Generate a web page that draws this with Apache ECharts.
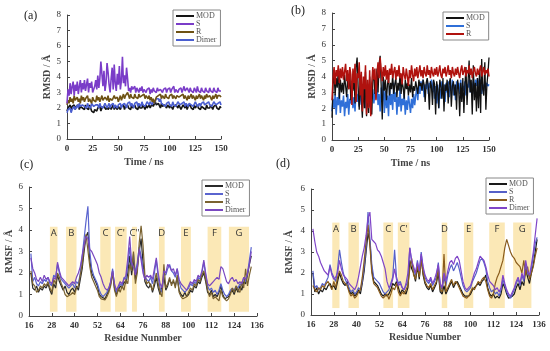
<!DOCTYPE html>
<html><head><meta charset="utf-8">
<script src="https://cdn.jsdelivr.net/npm/echarts@6/dist/echarts.min.js"></script>
<style>html,body{margin:0;padding:0;background:#fff}#c{width:550px;height:351px}</style>
</head><body><div id="c"></div>
<script>
// ---------- Panel (a): RMSD vs time (ns), 1 ns per value ----------
const rmsdA_MOD = [
1.8,2.0,1.9,2.2,1.9,2.1,2.0,2.2,1.9,2.1, 2.0,2.2,1.9,2.1,2.2,2.0,2.1,1.9,2.2,2.0,
2.1,1.9,2.2,2.0,1.8,1.9,1.7,1.9,2.0,1.8, 2.0,1.9,2.1,1.8,2.0,1.9,2.1,2.0,1.9,2.1,
1.9,2.0,2.1,1.9,2.0,2.2,1.9,2.1,2.0,1.9, 2.1,2.0,1.9,2.1,2.0,2.2,1.9,2.1,2.0,2.2,
2.0,2.1,1.9,2.2,2.0,2.1,2.2,2.0,2.1,1.9, 2.2,2.0,2.1,2.0,2.2,2.1,1.9,2.2,2.0,2.1,
2.2,2.0,2.1,2.3,2.1,2.2,2.4,2.2,2.1,2.3, 2.2,2.0,2.3,2.1,2.0,2.2,2.1,2.0,2.2,2.1,
2.0,2.2,2.1,1.9,2.1,2.0,2.2,2.1,2.0,2.2, 2.1,1.9,2.0,2.2,2.1,2.0,2.2,1.9,2.1,2.0,
2.2,2.0,2.1,1.9,2.2,2.0,2.1,2.2,2.0,2.1, 1.9,2.1,2.2,2.0,2.1,1.9,2.2,2.0,2.1,2.0,
2.2,2.1,1.9,2.1,2.0,2.2,2.0,2.1,1.9,2.1, 2.0];
const rmsdA_S = [
2.3,3.2,2.8,3.6,2.9,3.4,3.7,2.8,3.5,3.1, 3.7,2.9,3.4,3.8,3.0,3.6,3.2,3.8,3.1,3.5,
3.9,3.0,3.6,3.3,3.7,3.0,2.9,3.4,3.8,3.2, 4.1,3.3,3.9,5.0,4.2,3.4,4.4,3.1,3.6,4.9,
4.3,3.5,3.0,3.9,4.6,3.2,4.8,3.6,3.1,4.2, 3.5,4.7,3.2,3.8,5.3,3.6,4.1,3.4,4.6,3.9,
3.1,3.3,3.0,3.4,3.2,3.1,3.4,3.0,3.3,3.2, 3.0,3.3,3.1,3.4,3.0,3.2,3.3,3.0,3.2,3.1,
3.3,2.9,3.2,3.0,3.3,3.1,3.2,3.0,3.3,3.1, 3.0,3.2,3.3,3.0,3.2,3.1,3.3,3.0,3.2,3.1,
3.3,3.0,3.2,3.1,3.4,3.0,3.2,3.3,3.0,3.2, 3.1,3.3,3.0,3.2,3.4,3.1,3.0,3.3,3.2,3.0,
3.3,3.1,3.2,3.0,3.3,3.2,3.0,3.4,3.1,3.2, 3.0,3.3,3.1,3.2,3.0,3.3,3.1,3.2,3.0,3.3,
3.1,3.2,3.0,3.3,3.1,3.2,3.0,3.3,3.1,3.2, 3.1];
const rmsdA_R = [
2.2,2.5,2.3,2.7,2.4,2.6,2.3,2.8,2.5,2.4, 2.7,2.4,2.6,2.3,2.8,2.5,2.7,2.4,2.6,2.5,
2.8,2.4,2.6,2.5,2.3,2.7,2.5,2.6,2.4,2.8, 2.5,2.7,2.4,2.6,2.8,2.5,2.4,2.7,2.6,2.5,
2.8,2.4,2.6,2.7,2.5,2.4,2.8,2.6,2.5,2.7, 2.4,2.6,2.8,2.5,2.7,2.9,2.6,2.8,2.7,3.0,
2.8,2.6,2.9,2.7,2.8,2.6,2.9,2.7,2.8,2.6, 2.9,2.7,2.6,2.8,2.7,2.9,2.6,2.8,2.7,2.6,
2.8,2.5,2.7,2.4,2.6,2.3,2.5,2.7,2.6,2.8, 2.7,2.9,2.6,2.8,2.7,2.6,2.9,2.7,2.8,2.6,
2.8,2.7,2.9,2.6,2.8,2.7,2.6,2.8,2.9,2.7, 2.6,2.8,2.7,2.9,2.6,2.8,2.7,2.5,2.8,2.6,
2.7,2.9,2.6,2.8,2.7,2.5,2.8,2.6,2.7,2.9, 2.6,2.8,2.7,2.5,2.8,2.6,2.9,2.7,2.6,2.8,
2.7,2.5,2.8,2.6,2.7,2.9,2.6,2.8,2.7,2.8, 2.7];
const rmsdA_Dimer = [
1.7,1.9,1.8,2.0,1.7,1.9,1.8,2.1,1.9,2.0, 2.2,2.0,2.3,2.1,2.0,2.2,2.3,2.1,2.2,2.0,
2.3,2.1,2.2,2.0,2.3,2.2,2.1,2.0,2.2,2.1, 2.2,2.0,2.3,2.1,2.2,2.0,2.1,2.3,2.2,2.0,
2.1,2.3,2.0,2.2,2.1,2.3,2.0,2.2,2.1,2.0, 2.2,2.1,2.3,2.0,2.2,2.1,2.3,2.2,2.0,2.3,
2.2,2.4,2.1,2.3,2.2,2.0,2.3,2.2,2.4,2.1, 2.3,2.2,2.1,2.4,2.2,2.3,2.1,2.2,2.4,2.3,
2.2,2.4,2.3,2.2,2.5,2.3,2.4,2.6,2.5,2.6, 2.4,2.6,2.3,2.4,2.2,2.3,2.1,2.3,2.2,2.4,
2.2,2.3,2.1,2.4,2.2,2.3,2.1,2.2,2.4,2.3, 2.2,2.1,2.3,2.2,2.4,2.1,2.3,2.2,2.1,2.3,
2.4,2.2,2.3,2.1,2.2,2.4,2.3,2.1,2.2,2.3, 2.1,2.3,2.2,2.4,2.2,2.1,2.3,2.2,2.4,2.2,
2.3,2.1,2.2,2.4,2.3,2.2,2.1,2.3,2.2,2.4, 2.2];

// ---------- Panel (b): RMSD vs time (ns) ----------
const rmsdB_MOD = [
1.4,3.5,4.2,2.8,3.9,3.3,4.4,2.6,3.8,3.0, 3.6,2.9,4.1,3.4,2.7,3.9,3.2,4.3,2.5,3.7,
3.1,4.0,2.3,4.6,5.2,3.3,1.9,4.1,2.6,1.4, 3.5,2.0,4.3,1.5,3.2,1.7,4.0,2.4,1.6,3.7,
4.4,2.9,3.6,4.5,3.0,4.8,5.3,3.4,1.3,4.0, 3.1,3.8,2.5,3.5,3.9,2.8,3.6,3.2,4.1,2.9,
3.5,3.9,2.7,3.6,3.1,4.2,2.9,3.7,3.3,2.6, 3.8,3.2,3.6,2.8,3.5,3.0,3.9,2.7,3.4,3.1,
3.7,3.3,2.9,3.8,3.4,3.6,3.1,3.8,3.5,2.4, 3.6,3.9,3.3,1.9,3.7,3.4,2.2,3.8,3.5,1.6,
3.7,3.2,2.0,3.8,3.4,2.6,3.9,1.8,3.5,3.1, 3.8,2.3,3.6,3.9,2.1,3.4,3.7,2.8,3.5,1.9,
3.8,3.3,1.5,3.6,2.4,3.9,1.7,3.5,4.6,2.2, 3.7,5.0,3.0,3.8,1.6,4.7,2.5,3.6,1.8,3.9,
2.0,4.4,1.7,5.1,3.2,2.8,4.9,1.9,3.5,4.2, 5.2];
const rmsdB_S = [
1.8,2.6,2.0,2.9,1.6,2.7,2.2,3.0,1.7,2.5, 2.1,2.8,1.5,2.4,2.0,2.9,1.6,2.6,2.3,3.1,
2.0,2.7,1.8,3.2,2.4,2.9,2.1,3.4,2.2,2.8, 2.5,3.3,2.0,2.9,2.4,3.5,2.1,2.8,2.6,3.2,
2.3,3.0,2.6,3.6,2.2,2.9,1.8,3.3,2.4,3.7, 1.7,3.1,2.0,2.8,1.5,3.4,2.2,2.9,1.9,3.6,
2.4,3.0,1.6,2.7,2.1,3.3,1.8,2.6,2.2,2.9, 1.6,2.5,1.9,2.8,2.3,1.7,2.6,2.0,2.9,2.2,
2.8,3.3,2.5,3.6,2.9,3.7,3.1,3.8,2.7,3.5, 3.2,3.8,2.9,3.6,3.3,3.8,3.0,3.7,2.6,3.4,
2.3,3.5,2.0,3.2,2.6,3.7,2.9,3.5,2.4,3.6, 3.0,3.7,2.7,3.4,3.1,3.8,2.8,3.5,2.5,3.7,
3.2,3.6,2.9,3.8,2.6,3.4,3.1,3.7,2.8,3.5, 3.3,3.8,3.0,3.6,3.2,3.7,2.9,3.8,3.4,3.9,
3.6,3.2,3.8,2.9,3.5,3.1,3.7,3.3,3.6,3.4, 3.5];
const rmsdB_R = [
2.5,3.9,4.6,3.5,4.4,4.0,4.7,3.6,4.5,3.9, 4.6,3.8,4.3,4.8,3.7,4.4,3.2,4.6,4.1,2.2,
4.5,3.6,4.8,2.4,4.2,3.9,4.9,2.8,4.3,1.8, 4.0,3.2,4.7,1.6,3.8,2.0,4.4,1.5,3.6,4.6,
3.8,4.5,2.5,4.2,4.9,3.9,5.2,4.4,3.7,4.6, 4.0,4.7,3.8,4.4,3.6,4.5,4.1,4.8,3.9,4.3,
4.6,3.8,4.4,4.0,4.7,3.9,4.2,3.5,4.6,4.1, 3.8,4.5,4.0,3.4,4.4,3.9,4.7,4.1,3.7,4.5,
4.0,4.6,3.9,4.3,4.7,4.0,4.4,3.9,4.6,4.2, 4.0,4.7,4.1,4.4,3.9,4.6,4.2,4.0,4.5,4.1,
4.6,4.0,4.3,4.7,4.1,3.9,4.5,4.2,4.6,4.0, 4.3,4.7,4.1,4.4,3.9,4.6,4.2,4.0,4.5,4.1,
4.6,4.2,3.9,4.4,4.7,4.1,4.3,4.6,4.0,4.4, 4.2,4.7,4.1,4.5,3.9,4.3,4.6,4.2,4.0,4.5,
4.1,4.4,4.7,4.0,4.3,4.6,4.1,4.4,4.2,4.5, 4.0];

// ---------- Panel (c): RMSF per residue, residues 17..133 ----------
const firstResidueC = 17;
const rmsfC_MOD = [
2.0,1.3,1.2,1.4,1.1,1.3,1.2,1.4,1.3,1.5, 1.2,1.0,1.5,1.3,1.9,1.6,1.4,1.2,1.4,1.1,
1.0,1.2,1.3,1.1,1.4,1.2,1.7,2.2,3.0,3.7, 3.9,2.6,2.0,1.8,1.6,1.4,1.0,0.9,0.85,0.8,
1.0,1.2,1.5,2.1,1.3,1.0,1.2,1.4,1.3,1.6, 1.5,2.0,2.8,1.9,2.6,1.7,2.2,3.0,3.6,2.5,
1.6,1.4,1.3,1.5,1.1,1.4,1.8,1.3,1.0,1.0, 1.8,1.2,1.4,1.7,1.5,1.6,1.4,1.8,1.2,1.0,
0.9,1.1,0.9,1.0,1.2,1.1,1.4,1.3,1.6,1.5, 1.8,2.0,1.6,1.1,1.0,1.2,0.9,1.0,0.9,1.1,
1.4,1.0,0.8,0.75,0.9,1.1,1.2,1.0,1.3,1.1, 1.4,1.2,1.6,1.5,1.9,2.4,2.8];
const rmsfC_S = [
2.9,1.6,1.8,1.5,1.4,1.6,1.5,1.7,1.6,1.8, 1.5,1.4,1.9,1.8,2.4,2.0,1.7,1.6,1.5,1.4,
1.3,1.4,1.5,1.3,1.6,1.5,2.0,2.8,3.6,4.4, 5.1,3.0,2.2,1.9,1.7,1.5,1.2,1.0,0.9,0.9,
1.1,1.3,1.6,2.2,1.4,1.1,1.3,1.5,1.4,1.8, 1.7,2.4,3.2,2.2,2.9,2.0,2.5,3.2,2.8,2.2,
1.8,1.7,1.6,1.8,1.5,2.0,2.6,1.8,1.3,1.1, 2.0,1.9,2.2,2.4,2.1,2.0,1.8,2.2,1.6,1.3,
1.2,1.1,1.2,1.3,1.5,1.4,1.6,1.5,1.8,1.7, 2.0,2.5,1.9,1.4,1.2,1.3,1.1,1.2,1.0,1.2,
1.5,1.2,1.0,0.9,1.0,1.2,1.3,1.2,1.4,1.3, 1.5,1.4,1.8,1.6,2.0,2.6,3.2];
const rmsfC_R = [
2.1,1.5,1.4,1.1,1.2,1.4,1.3,1.5,1.4,1.6, 1.3,1.1,1.7,1.5,2.0,1.8,1.5,1.3,1.0,0.9,
0.85,1.0,1.1,1.0,1.3,1.4,1.9,2.4,3.2,3.8, 3.8,2.3,1.8,1.6,1.4,1.2,0.9,0.8,0.8,0.75,
0.9,1.1,1.4,2.0,1.2,0.9,1.3,1.1,1.4,1.2, 1.7,1.5,2.4,2.1,3.0,1.5,2.0,3.4,4.2,3.3,
1.9,1.5,1.6,1.4,1.2,1.6,2.0,1.5,1.1,0.9, 2.4,1.3,1.5,1.8,1.4,1.7,1.3,1.9,1.1,0.9,
0.8,0.75,0.9,1.1,1.3,1.2,1.5,1.4,1.7,1.6, 1.9,2.1,1.7,1.2,0.9,1.1,0.8,0.9,0.8,0.7,
1.2,0.9,0.8,0.7,0.8,1.0,1.3,1.1,1.4,1.2, 1.1,1.6,1.3,2.2,1.4,1.9,2.3];
const rmsfC_Dimer = [
2.7,2.2,2.0,1.7,1.6,1.8,1.6,1.9,1.7,1.8, 1.6,1.5,1.8,1.7,2.5,2.1,1.8,1.7,1.6,1.5,
1.4,1.5,1.6,1.5,1.8,2.0,2.3,2.8,3.3,3.7, 3.6,3.1,3.0,2.8,2.6,2.4,2.0,1.8,1.5,1.3,
1.2,1.3,1.6,2.1,1.5,1.2,1.4,1.6,1.5,1.7, 1.9,2.7,3.7,2.5,2.3,1.9,2.3,3.1,2.6,2.0,
1.7,1.9,1.8,1.9,1.7,2.2,2.7,2.0,1.5,1.3, 2.1,2.0,2.4,2.3,2.1,2.2,1.9,2.2,1.7,1.5,
1.4,1.3,1.2,1.4,1.6,1.5,1.7,1.6,1.9,1.8, 2.1,2.6,2.0,1.5,1.4,1.5,1.6,1.7,1.8,1.7,
2.3,2.2,1.9,1.6,1.5,1.7,1.8,1.6,1.7,1.5, 1.6,1.5,1.8,1.7,2.0,2.4,3.0];

// ---------- Panel (d): RMSF per residue, residues 17..135 ----------
const firstResidueD = 17;
const rmsfD_MOD = [
2.0,1.1,1.3,1.0,1.2,1.1,1.3,1.2,1.4,1.5, 1.3,1.4,1.2,1.6,2.0,1.7,1.5,1.4,1.6,1.2,
1.0,1.1,0.9,1.0,1.2,1.0,1.5,2.1,3.0,3.9, 3.5,2.2,1.6,1.5,1.4,1.2,1.0,0.9,1.0,0.9,
1.0,1.2,1.5,1.4,1.6,1.3,1.0,1.2,1.1,1.0, 1.3,2.6,2.2,2.0,1.6,2.3,1.7,2.8,1.9,1.5,
1.3,1.2,1.4,1.1,1.3,1.5,2.0,1.1,1.0,1.4, 1.0,1.2,1.4,1.6,1.3,1.5,1.6,1.4,1.2,1.0,
0.9,0.85,0.9,1.0,1.2,1.3,1.4,1.5,1.4,1.6, 1.7,1.9,1.3,1.0,0.9,1.0,0.8,0.9,0.8,1.0,
1.5,1.3,1.0,0.8,0.75,0.9,1.0,1.3,1.5,1.2, 1.6,1.4,2.2,1.8,1.5,2.0,2.4,3.0,3.6];
const rmsfD_S = [
2.1,1.3,1.4,1.2,1.3,1.5,1.4,1.6,1.8,2.4, 2.0,1.8,1.6,2.2,3.1,2.5,2.0,1.7,1.5,1.3,
1.1,1.2,1.0,1.1,1.3,1.2,1.6,2.3,3.2,4.9, 4.9,2.4,1.8,1.7,1.6,1.5,1.3,1.1,1.0,1.1,
1.2,1.5,1.8,3.1,1.8,1.5,1.6,1.3,1.2,1.4, 1.6,3.2,2.5,2.2,1.9,2.6,2.0,3.0,2.2,1.8,
1.6,1.5,1.7,1.4,1.6,1.8,2.5,1.4,1.2,1.8, 1.4,1.9,2.2,2.4,2.1,2.3,2.5,2.2,1.8,1.4,
1.2,1.1,1.2,1.3,1.6,1.8,2.0,2.3,2.6,2.7, 2.5,2.2,1.6,1.3,1.1,1.2,1.0,1.1,0.9,1.2,
1.7,1.4,1.1,0.9,0.8,1.0,1.2,1.5,1.7,1.4, 1.9,1.6,2.4,2.0,1.8,2.2,2.8,3.4,3.7];
const rmsfD_R = [
1.4,1.2,1.1,1.3,1.2,1.4,1.3,1.5,1.6,1.4, 1.2,1.6,1.3,1.8,2.1,1.9,1.6,1.5,1.4,1.1,
0.9,1.0,0.8,0.9,1.1,1.2,1.8,2.6,3.5,4.3, 3.3,2.0,1.5,1.4,1.3,1.1,0.9,0.8,0.75,1.0,
0.75,1.0,1.3,1.2,1.5,1.1,0.9,1.1,1.0,1.2, 1.4,2.2,2.7,1.9,1.7,2.4,1.8,2.6,2.0,1.6,
1.4,1.3,1.5,1.2,1.4,1.6,2.2,1.2,1.1,2.9, 1.1,1.3,1.5,1.7,1.4,1.6,1.5,1.3,1.1,0.9,
0.85,0.8,0.9,1.1,1.3,1.2,1.4,1.6,1.5,1.7, 1.8,1.6,1.2,0.9,0.8,1.0,1.5,1.8,2.0,2.3,
2.6,3.2,3.6,3.3,3.0,2.8,2.7,2.5,2.4,2.3, 2.0,2.6,1.9,2.3,1.7,2.0,2.3,2.8,3.2];
const rmsfD_Dimer = [
4.1,3.5,3.0,2.8,2.5,2.3,2.1,2.0,1.9,2.3, 1.9,1.7,1.8,2.0,2.6,2.2,1.9,1.8,1.7,1.5,
1.4,1.3,1.2,1.4,1.8,2.3,2.8,3.2,3.8,4.6, 4.9,3.6,3.5,3.4,3.1,3.0,2.8,2.5,2.2,1.6,
1.3,1.4,1.7,2.2,1.7,1.4,1.5,1.3,1.2,1.5, 2.0,3.2,2.6,2.3,2.0,2.5,2.1,2.9,2.3,1.9,
1.7,1.6,1.8,1.5,1.7,2.0,2.4,1.5,1.3,2.0, 1.6,2.1,2.5,2.6,2.4,2.7,2.8,2.6,2.1,1.6,
1.3,1.2,1.3,1.4,1.7,2.0,2.2,2.5,2.8,2.7, 2.6,2.3,1.9,1.6,1.5,1.4,1.2,1.3,1.1,1.3,
1.9,1.5,1.2,1.0,0.9,1.1,1.3,1.6,1.8,1.5, 2.0,1.7,2.6,2.1,1.9,2.4,3.0,3.8,4.6];

// ---------- Secondary-structure bands ----------
const bandNamesC = ['A','B','C',"C'","C''",'D','E','F','G'];
const bandStartC = [27, 35.5, 53.5, 61.3, 70.2, 84.4, 96, 110, 121.2];
const bandEndC   = [31, 41, 59, 67.4, 72.8, 87.4, 101.2, 117.2, 131.8];
const bandBottomC = 0.2, bandTopC = 4.15;
const bandNamesD = ['A','B','C',"C'",'D','E','F','G'];
const bandStartD = [27.2, 35.7, 54.1, 61.7, 84.8, 96.5, 109.8, 122.4];
const bandEndD   = [31, 41.2, 59.2, 67.8, 87.7, 101.4, 118, 132];
const bandBottomD = 0.33, bandTopD = 4.4;

// ---------- Axis ticks ----------
const timeTicks = [0, 25, 50, 75, 100, 125, 150];
const residueTicks = [16, 28, 40, 52, 64, 76, 88, 100, 112, 124, 136];

const SERIF = 'Liberation Serif';
const chart = echarts.init(document.getElementById('c'), null, {renderer: 'canvas'});

function timeSeries(name, vals, color, idx, w) {
  return {type: 'line', name, xAxisIndex: idx, yAxisIndex: idx,
    data: vals.map((v, i) => [i, v]), symbol: 'none', showSymbol: false,
    lineStyle: {color, width: w}, itemStyle: {color}, animation: false, z: 2, silent: true};
}
function resSeries(name, vals, first, color, idx, w) {
  return {type: 'line', name, xAxisIndex: idx, yAxisIndex: idx,
    data: vals.map((v, i) => [first + i, v]), symbol: 'none', showSymbol: false,
    lineStyle: {color, width: w}, itemStyle: {color}, animation: false, z: 2, silent: true};
}
function bands(names, starts, ends, bottom, top) {
  return names.map((n, i) => [
    {name: n, coord: [starts[i], bottom]},
    {coord: [ends[i], top]}
  ]);
}
function bandSeries(idx, names, starts, ends, bottom, top, vals, first) {
  return {type: 'line', name: '_band' + idx, xAxisIndex: idx, yAxisIndex: idx,
    data: vals.map((v, i) => [first + i, v]), symbol: 'none',
    lineStyle: {opacity: 0}, silent: true, animation: false, z: 1,
    markArea: {silent: true, animation: false,
      itemStyle: {color: '#fbe8b6'},
      label: {show: true, position: 'insideTop', distance: 2, fontFamily: 'Open Sans',
        fontSize: 9.5, color: '#333'},
      data: bands(names, starts, ends, bottom, top)}};
}

const axisBase = {
  axisLine: {show: true, onZero: false, lineStyle: {color: '#444', width: 1}},
  axisTick: {show: true, inside: true, length: 3, lineStyle: {color: '#444'}},
  splitLine: {show: false},
  nameTextStyle: {fontFamily: SERIF, fontSize: 10, fontWeight: 'bold', color: '#444'}
};
function xTime(idx, gridIdx) {
  return Object.assign({}, axisBase, {type: 'value', gridIndex: gridIdx, min: 0, max: 150, interval: 25,
    axisLabel: {fontFamily: SERIF, fontSize: 9, color: '#333', margin: 5, fontWeight: 'bold'},
    name: 'Time / ns', nameLocation: 'middle', nameGap: 18});
}
function yRmsd(gridIdx, gap) {
  return Object.assign({}, axisBase, {type: 'value', gridIndex: gridIdx, min: 0, max: 8, interval: 1,
    axisLabel: {fontFamily: SERIF, fontSize: 9, color: '#333', margin: 6},
    name: 'RMSD / Å', nameLocation: 'middle', nameGap: gap});
}
function xRes(gridIdx, title) {
  return Object.assign({}, axisBase, {type: 'value', gridIndex: gridIdx, min: 16, max: 136,
    axisTick: {show: true, inside: true, length: 3, lineStyle: {color: '#444'}, customValues: residueTicks},
    axisLabel: {fontFamily: SERIF, fontSize: 9, color: '#333', margin: 5, fontWeight: 'bold', customValues: residueTicks},
    name: title, nameLocation: 'middle', nameGap: 17});
}
function yRmsf(gridIdx, gap) {
  return Object.assign({}, axisBase, {type: 'value', gridIndex: gridIdx, min: 0, max: 6, interval: 1,
    axisLabel: {fontFamily: SERIF, fontSize: 9, color: '#333', margin: 6},
    name: 'RMSF / Å', nameLocation: 'middle', nameGap: gap});
}
function legendBox(names, left, top) {
  return {orient: 'vertical', left, top, data: names, itemGap: 0,
    icon: 'rect', itemWidth: 18, itemHeight: 2,
    padding: [2, 4, 2, 3], borderColor: '#888', borderWidth: 1, backgroundColor: '#fff',
    formatter: n => n.split('|')[0], selectedMode: false,
    textStyle: {fontFamily: SERIF, fontSize: 8, lineHeight: 8, color: '#555', padding: [0, 0, 0, -3]}};
}

const colA = {MOD: '#151515', S: '#7a3cc8', R: '#6e5214', Dimer: '#4a5ed0'};
const colB = {MOD: '#111111', S: '#2f6fd8', R: '#b0120e'};
const colC = {MOD: '#2a2a2a', S: '#5a64cf', R: '#7a6230', Dimer: '#7a48c0'};
const colD = {MOD: '#1a1a1a', S: '#5560c8', R: '#8a5c1c', Dimer: '#7f45c8'};

chart.setOption({
  animation: false,
  backgroundColor: '#fff',
  grid: [
    {left: 67, top: 15, width: 154, height: 124},
    {left: 332, top: 13, width: 157, height: 127},
    {left: 29, top: 187, width: 228, height: 129},
    {left: 311, top: 189, width: 228, height: 126}
  ],
  xAxis: [xTime(0, 0), xTime(1, 1), xRes(2, 'Residue Nunmber'), xRes(3, 'Residue Number')],
  yAxis: [yRmsd(0, 14), yRmsd(1, 15), yRmsf(2, 14), yRmsf(3, 17)],
  legend: [
    legendBox(['MOD|a', 'S|a', 'R|a', 'Dimer|a'], 173, 10),
    legendBox(['MOD|b', 'S|b', 'R|b'], 443, 12),
    legendBox(['MOD|c', 'S|c', 'R|c', 'Dimer|c'], 202, 180),
    legendBox(['MOD|d', 'S|d', 'R|d', 'Dimer|d'], 486, 178)
  ],
  graphic: [
    {type: 'text', left: 24, top: 10, style: {text: '(a)', font: '12px "Liberation Serif"', fill: '#222'}},
    {type: 'text', left: 291, top: 5, style: {text: '(b)', font: '12px "Liberation Serif"', fill: '#222'}},
    {type: 'text', left: 20, top: 159, style: {text: '(c)', font: '12px "Liberation Serif"', fill: '#222'}},
    {type: 'text', left: 276, top: 158, style: {text: '(d)', font: '12px "Liberation Serif"', fill: '#222'}}
  ],
  series: [
    timeSeries('MOD|a', rmsdA_MOD, colA.MOD, 0, 1.6),
    timeSeries('Dimer|a', rmsdA_Dimer, colA.Dimer, 0, 1.6),
    timeSeries('R|a', rmsdA_R, colA.R, 0, 1.6),
    timeSeries('S|a', rmsdA_S, colA.S, 0, 1.6),
    timeSeries('S|b', rmsdB_S, colB.S, 1, 1.5),
    timeSeries('MOD|b', rmsdB_MOD, colB.MOD, 1, 1.3),
    timeSeries('R|b', rmsdB_R, colB.R, 1, 1.5),
    bandSeries(2, bandNamesC, bandStartC, bandEndC, bandBottomC, bandTopC, rmsfC_MOD, firstResidueC),
    resSeries('MOD|c', rmsfC_MOD, firstResidueC, colC.MOD, 2, 1.2),
    resSeries('S|c', rmsfC_S, firstResidueC, colC.S, 2, 1.2),
    resSeries('R|c', rmsfC_R, firstResidueC, colC.R, 2, 1.2),
    resSeries('Dimer|c', rmsfC_Dimer, firstResidueC, colC.Dimer, 2, 1.2),
    bandSeries(3, bandNamesD, bandStartD, bandEndD, bandBottomD, bandTopD, rmsfD_MOD, firstResidueD),
    resSeries('MOD|d', rmsfD_MOD, firstResidueD, colD.MOD, 3, 1.2),
    resSeries('S|d', rmsfD_S, firstResidueD, colD.S, 3, 1.2),
    resSeries('R|d', rmsfD_R, firstResidueD, colD.R, 3, 1.2),
    resSeries('Dimer|d', rmsfD_Dimer, firstResidueD, colD.Dimer, 3, 1.2)
  ]
});
</script>
</body></html>
